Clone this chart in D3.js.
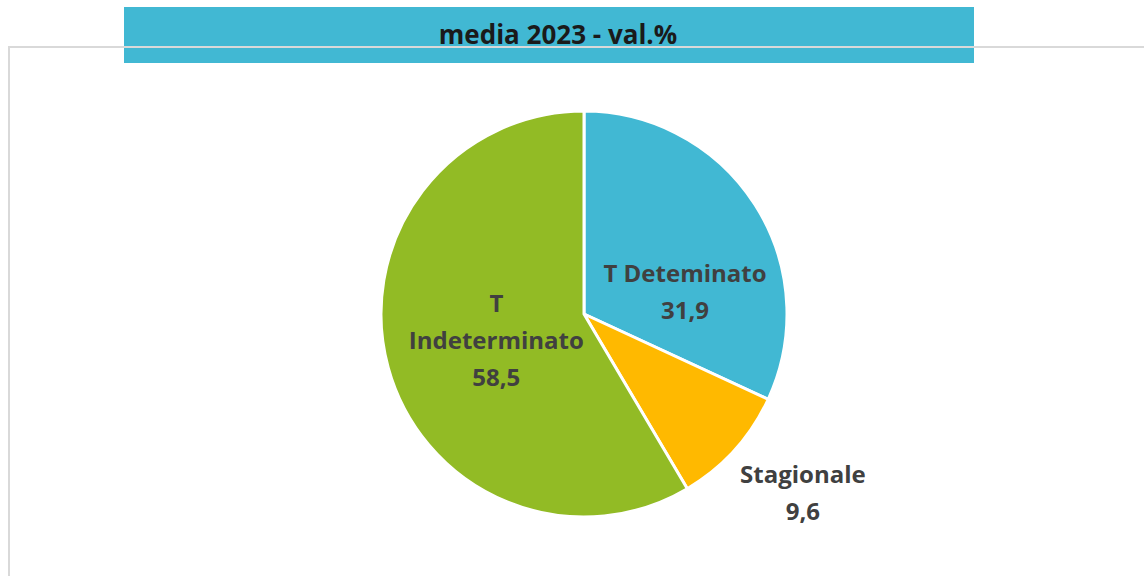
<!DOCTYPE html>
<html>
<head>
<meta charset="utf-8">
<script src="https://cdn.jsdelivr.net/npm/d3@7"></script>
<style>
  body { margin: 0; background: #fff; }
  svg { display: block; }
</style>
</head>
<body>
<div id="chart"></div>
<script>
var titleText = "media 2023 - val.%";
var categories = ["T Deteminato", "Stagionale", "T Indeterminato"];
var labelLines = [["T Deteminato"], ["Stagionale"], ["T", "Indeterminato"]];
var values = [31.9, 9.6, 58.5];
var colors = ["#41B8D3", "#FFB900", "#92BB25"];

function init(){
    var w = 1144;
    var h = 576;
    var cx = 584, cy = 314, r = 203;

    var svg = d3.select("#chart")
        .append("svg")
        .attr("width", w)
        .attr("height", h);

    // title banner
    svg.append("rect")
        .attr("x", 124).attr("y", 7)
        .attr("width", 850).attr("height", 56)
        .attr("fill", "#41B8D3");

    // chart area border (drawn over the banner like in the source)
    svg.append("path")
        .attr("d", "M9," + h + " V47 H" + w)
        .attr("fill", "none")
        .attr("stroke", "#D9D9D9")
        .attr("stroke-width", 2);

    svg.append("text")
        .attr("x", 558).attr("y", 44)
        .attr("text-anchor", "middle")
        .style("font-family", "'Open Sans', 'Liberation Sans', sans-serif")
        .style("font-weight", "bold")
        .style("font-size", "26px")
        .attr("fill", "#1a1a1a")
        .text(titleText);

    var pie = d3.pie().sort(null).value(function(d){ return d; });
    var arcs = pie(values);
    var arc = d3.arc().innerRadius(0).outerRadius(r);

    var g = svg.append("g").attr("transform", "translate(" + cx + "," + cy + ")");

    g.selectAll("path.slice")
        .data(arcs)
        .enter()
        .append("path")
        .attr("class", "slice")
        .attr("d", arc)
        .attr("fill", function(d, i){ return colors[i]; })
        .attr("stroke", "#fff")
        .attr("stroke-width", 3)
        .attr("stroke-linejoin", "round");

    // label placement: angle shift (deg) and radius factor, like Excel's best fit
    var labelPlace = [[20, 0.51], [-3, 1.39], [-1, 0.45]];
    var lineH = 37;

    g.selectAll("text.lbl")
        .data(arcs)
        .enter()
        .append("text")
        .attr("class", "lbl")
        .attr("text-anchor", "middle")
        .style("font-family", "'Open Sans', 'Liberation Sans', sans-serif")
        .style("font-weight", "bold")
        .style("font-size", "24px")
        .attr("fill", "#404040")
        .each(function(d, i){
            var a = (d.startAngle + d.endAngle) / 2 + labelPlace[i][0] * Math.PI / 180;
            var rr = r * labelPlace[i][1];
            var x = Math.sin(a) * rr;
            var y = -Math.cos(a) * rr;
            var lines = labelLines[i].concat([String(values[i]).replace(".", ",")]);
            var y0 = y - (lines.length - 1) * lineH / 2 + 9;
            var t = d3.select(this);
            lines.forEach(function(s, k){
                t.append("tspan").attr("x", x).attr("y", y0 + k * lineH).text(s);
            });
        });
}
window.onload = init;
</script>
</body>
</html>
